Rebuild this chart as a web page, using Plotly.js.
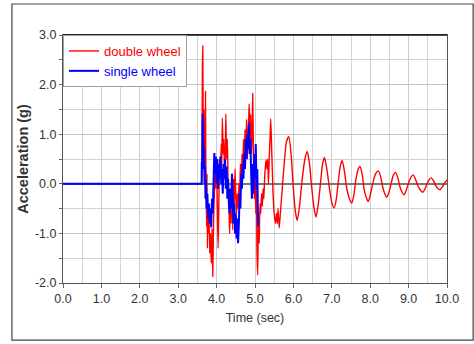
<!DOCTYPE html>
<html>
<head>
<meta charset="utf-8">
<script src="https://cdn.plot.ly/plotly-3.0.1.min.js"></script>
<style>html,body{margin:0;padding:0;background:#fff;}#chart{width:474px;height:344px;}</style>
</head>
<body>
<div id="chart"></div>
<script>
// double wheel (red) time and acceleration
const doubleT = [0, 3.60, 3.61, 3.62, 3.63, 3.64, 3.65, 3.66, 3.67, 3.68, 3.69, 3.70, 3.71, 3.72, 3.73, 3.74, 3.75, 3.76, 3.77, 3.78,
  3.80, 3.82, 3.84, 3.86, 3.88, 3.90, 3.92, 3.94, 3.96, 3.98, 4.00, 4.02, 4.04, 4.06, 4.08, 4.10, 4.12, 4.13, 4.15, 4.17,
  4.19, 4.21, 4.23, 4.24, 4.26, 4.28, 4.30, 4.32, 4.34, 4.36, 4.38, 4.40, 4.42, 4.44, 4.46, 4.48, 4.50, 4.52, 4.54, 4.56,
  4.58, 4.60, 4.62, 4.64, 4.66, 4.68, 4.70, 4.72, 4.74, 4.76, 4.78, 4.80, 4.82, 4.84, 4.85, 4.87, 4.89, 4.91, 4.93, 4.94,
  4.96, 4.98, 5.00, 5.02, 5.04, 5.05, 5.07, 5.09, 5.11, 5.13, 5.15, 5.17, 5.19, 5.21, 5.23, 5.25, 5.27, 5.29, 5.31, 5.33,
  5.35, 5.37, 5.39, 5.41, 5.43, 5.45, 5.47, 5.50, 5.53, 5.56, 5.58, 5.60, 5.63, 5.66, 5.70, 5.76,
  5.82, 5.88, 5.94, 5.99, 6.05, 6.10, 6.16, 6.23, 6.30, 6.36, 6.42, 6.48, 6.54, 6.59, 6.65, 6.71,
  6.76, 6.81, 6.87, 6.94, 7.00, 7.06, 7.12, 7.17, 7.22, 7.27, 7.33, 7.39, 7.46, 7.52, 7.57, 7.62,
  7.68, 7.73, 7.79, 7.84, 7.90, 7.95, 8.01, 8.07, 8.14, 8.21, 8.27, 8.32, 8.38, 8.43, 8.49, 8.55,
  8.60, 8.66, 8.72, 8.77, 8.83, 8.88, 8.94, 9.00, 9.06, 9.12, 9.18, 9.24, 9.31, 9.37, 9.43, 9.48,
  9.54, 9.59, 9.65, 9.71, 9.77, 9.82, 9.88, 9.94, 10.0];
const doubleAcc = [0, 0, 0.0, 0.5, 2.3, 2.78, 1.2, 0.6, 1.5, 0.5, 1.0, 0.3, 1.86, 0.4, -0.3, -0.86, 0.2, -1.3, -0.4, -1.0,
  -0.6, -1.4, -1.0, -1.6, -0.9, -1.87, -0.8, -0.2, 0.3, -0.1, 0.4, -0.5, -1.3, -0.3, 0.5, 0.1, 0.8, 0.2, 1.33, 0.6,
  0.9, 0.1, 0.8, 1.41, 0.5, 0.9, 0.0, -0.4, -1.0, -0.3, -0.8, 0.2, -0.93, 0.1, -0.5, 0.3, -0.2, -0.6, -0.2, -0.5,
  0.0, -0.3, 0.4, -0.1, 0.6, 0.2, 0.9, 0.4, 1.1, 0.6, 1.3, 0.5, 1.0, 1.4, 1.61, 0.9, 1.4, 0.6, 1.2, 1.82,
  0.6, -0.3, 0.2, -0.6, -0.1, -1.3, -1.84, -0.6, -1.2, -0.4, -0.6, -0.2, -0.45, -0.1, -0.3, 0.1, 0.35, 0.48, 0.3, 0.5,
  0.0, 0.5, 0.9, 1.31, 0.8, 0.3, -0.2, -0.6, -0.8, -0.6, -0.8, -0.5, -0.89, -0.6, -0.2, 0.4,
  0.85, 0.95, 0.6, 0.0, -0.55, -0.74, -0.45, 0.1, 0.5, 0.65, 0.4, -0.1, -0.5, -0.67, -0.4, 0.05,
  0.4, 0.53, 0.3, -0.1, -0.38, -0.49, -0.3, 0.05, 0.35, 0.47, 0.25, -0.1, -0.3, -0.39, -0.25, 0.05,
  0.28, 0.35, 0.2, -0.1, -0.28, -0.36, -0.2, 0.02, 0.2, 0.26, 0.15, -0.05, -0.2, -0.27, -0.17, 0.02,
  0.17, 0.23, 0.12, -0.05, -0.17, -0.22, -0.13, 0.02, 0.13, 0.18, 0.09, -0.04, -0.13, -0.17, -0.1, 0.0,
  0.09, 0.12, 0.06, -0.04, -0.1, -0.12, -0.06, 0.02, 0.08];

// single wheel (blue) time and acceleration
const singleT = [0, 3.61, 3.615, 3.625, 3.635, 3.645, 3.655, 3.665, 3.675, 3.685, 3.70, 3.71, 3.72, 3.74, 3.76, 3.78, 3.80, 3.82, 3.84, 3.86,
  3.88, 3.90, 3.92, 3.94, 3.96, 3.98, 4.00, 4.02, 4.04, 4.06, 4.08, 4.10, 4.12, 4.14, 4.16, 4.18, 4.20, 4.22, 4.24, 4.26,
  4.28, 4.30, 4.32, 4.34, 4.36, 4.38, 4.40, 4.42, 4.44, 4.46, 4.48, 4.50, 4.52, 4.54, 4.56, 4.58, 4.60, 4.62, 4.64, 4.66,
  4.68, 4.70, 4.72, 4.74, 4.76, 4.78, 4.80, 4.82, 4.84, 4.86, 4.88, 4.90, 4.92, 4.94, 4.96, 4.98, 5.00, 5.02, 5.04, 5.06, 5.08];
const singleAcc = [0, 0, 0.45, 0.3, 1.41, 0.6, 0.95, 0.3, 0.7, 0.0, 0.35, -0.3, 0.1, -0.5, -0.2, -0.7, -0.4, -0.8, -0.5, -0.88,
  -0.3, -0.6, 0.1, 0.62, 0.2, 0.55, 0.0, 0.5, -0.1, 0.4, 0.1, 0.55, 0.0, 0.3, -0.2, 0.4, 0.1, 0.5, -0.1, 0.35,
  -0.3, 0.1, -0.4, -0.6, -0.1, -0.5, 0.2, -0.3, -0.8, -0.4, -1.0, -0.6, -1.1, -0.7, -1.2, -0.8, -0.2, -0.5, 0.2, -0.1,
  0.4, 0.1, 0.6, 0.3, 0.9, 0.5, 1.0, 0.7, 1.22, 0.6, 0.9, 0.2, -0.3, 0.4, -0.2, 0.6, 0.1, 0.8, -0.1, 0.3, -0.86];

const seriesNames = ['double wheel', 'single wheel'];
const seriesColors = ['#ff0000', '#0000ff'];

const yTickVals = [-2, -1, 0, 1, 2, 3];
const yTickText = ['-2.0', '-1.0', '0.0', '1.0', '2.0', '3.0'];
const xTickVals = [0, 1, 2, 3, 4, 5, 6, 7, 8, 9, 10];
const xTickText = ['0.0', '1.0', '2.0', '3.0', '4.0', '5.0', '6.0', '7.0', '8.0', '9.0', '10.0'];

const traces = [
  {x: doubleT, y: doubleAcc, mode: 'lines', type: 'scatter',
   name: '<span style="color:' + seriesColors[0] + '">' + seriesNames[0] + '</span>',
   line: {color: seriesColors[0], width: 1.4, shape: 'spline', smoothing: 0.6}},
  {x: singleT, y: singleAcc, mode: 'lines', type: 'scatter',
   name: '<span style="color:' + seriesColors[1] + '">' + seriesNames[1] + '</span>',
   line: {color: seriesColors[1], width: 2}}
];

const tickFont = {family: '"Liberation Sans", Arial, sans-serif', size: 12.5, color: '#333'};

const layout = {
  width: 474, height: 344,
  margin: {l: 63, r: 27, t: 35, b: 61, pad: 0},
  paper_bgcolor: '#ffffff', plot_bgcolor: '#ffffff',
  showlegend: true,
  legend: {x: 0, y: 1, xanchor: 'left', yanchor: 'top', bgcolor: '#ffffff', bordercolor: '#a0a0a0', borderwidth: 1,
           font: {family: '"Liberation Sans", Arial, sans-serif', size: 13}, itemwidth: 30, tracegroupgap: 0},
  xaxis: {range: [0, 10], tickvals: xTickVals, ticktext: xTickText, tickfont: tickFont,
          showline: true, mirror: true, linecolor: '#555', linewidth: 1,
          ticks: 'outside', ticklen: 4, tickcolor: '#666',
          showgrid: true, gridcolor: '#cccccc', gridwidth: 1,
          minor: {dtick: 0.5, showgrid: true, gridcolor: '#d6d6d6', gridwidth: 1},
          zeroline: false, fixedrange: true,
          title: {text: 'Time (sec)', font: {family: '"Liberation Sans", Arial, sans-serif', size: 12.5, color: '#333'}, standoff: 8}},
  yaxis: {range: [-2, 3], tickvals: yTickVals, ticktext: yTickText, tickfont: tickFont,
          showline: true, mirror: true, linecolor: '#555', linewidth: 1,
          ticks: 'outside', ticklen: 3, tickcolor: '#666',
          showgrid: true, gridcolor: '#c4c4c4', gridwidth: 1,
          minor: {dtick: 0.5, showgrid: true, gridcolor: '#d0d0d0', gridwidth: 1, ticks: 'outside', ticklen: 3, tickcolor: '#666'},
          zeroline: true, zerolinecolor: '#777', zerolinewidth: 1.5, fixedrange: true,
          title: {text: 'Acceleration (g)', font: {family: '"Liberation Sans", Arial, sans-serif', size: 14.5, color: '#333', weight: 'bold'}, standoff: 2}},
  shapes: [
    {type: 'rect', xref: 'paper', yref: 'paper', x0: -0.133, x1: 1.068, y0: -0.23, y1: 1.125,
     line: {color: '#444', width: 1.2}, fillcolor: 'rgba(0,0,0,0)', layer: 'below'},
    {type: 'line', xref: 'paper', yref: 'paper', x0: 0, x1: 1, y0: 1, y1: 1, line: {color: '#111', width: 1.5}}
  ]
};

Plotly.newPlot('chart', traces, layout, {displayModeBar: false, staticPlot: true});
</script>
</body>
</html>
